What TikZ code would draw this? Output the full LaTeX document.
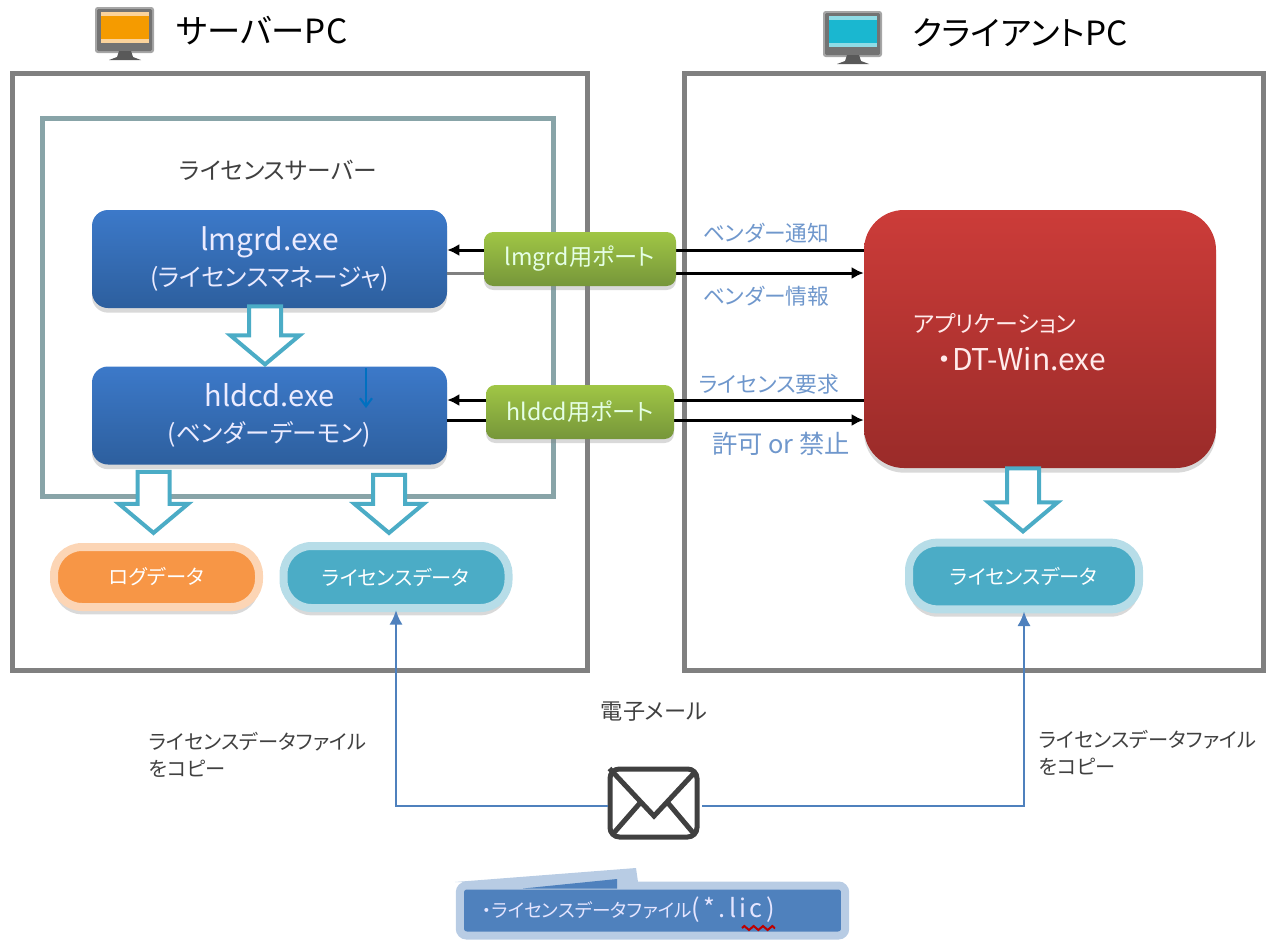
\documentclass[tikz,border=0pt]{standalone}
\usepackage{fontspec}
\setmainfont[RawFeature={+palt}]{Noto Sans CJK JP}
\usepackage{tikz}
\usetikzlibrary{arrows,arrows.meta,positioning,calc,shadows,shapes.arrows,decorations.pathmorphing}
\definecolor{frameGray}{HTML}{808080}
\definecolor{frameTeal}{HTML}{88A4A8}
\definecolor{flowTeal}{HTML}{4BACC6}
\definecolor{paleTeal}{HTML}{B7DDE8}
\definecolor{logOrange}{HTML}{F79646}
\definecolor{paleOrange}{HTML}{FCD5B5}
\definecolor{mailBlue}{HTML}{4F81BD}
\definecolor{paleBlue}{HTML}{B8CCE4}
\definecolor{noteBlue}{HTML}{6F97CC}
\definecolor{darkText}{HTML}{404040}
\definecolor{tinyBlue}{HTML}{0070C0}
\definecolor{screenS}{HTML}{F59B00}
\definecolor{bandS}{HTML}{FBD39B}
\definecolor{screenC}{HTML}{1AB7D0}
\definecolor{bandC}{HTML}{8FDCE6}

\begin{document}
\begin{tikzpicture}[x=.75pt, y=-.75pt,
        every node/.style={inner sep=0pt},
        framebox/.style={draw, line width=3.75pt, minimum height=447.75pt},
        mainblock/.style={rounded corners=12pt,
            top color={rgb,255:red,60;green,121;blue,201}, bottom color={rgb,255:red,45;green,95;blue,158},
            minimum width=266.25pt, minimum height=73.5pt, align=center, text=white!92!blue,
            font=\fontsize{18.5}{27}\selectfont,
            drop shadow={shadow xshift=0pt, shadow yshift=-3.5pt, opacity=.3}},
        portbox/.style={rounded corners=7pt,
            top color={rgb,255:red,160;green,198;blue,69}, bottom color={rgb,255:red,118;green,150;blue,58},
            minimum height=40.5pt, text=white!90!green, font=\fontsize{17.4}{20}\selectfont,
            drop shadow={shadow xshift=0pt, shadow yshift=-3pt, opacity=.3}},
        pillbox/.style={draw=paleTeal, fill=flowTeal, line width=6pt, rounded corners=21pt,
            text=white, font=\fontsize{15.2}{18}\selectfont,
            drop shadow={shadow xshift=0pt, shadow yshift=-5.5pt, opacity=.3}},
        flowarrow/.style={draw=flowTeal, fill=white, line width=3pt, single arrow, anchor=tip,
            shape border rotate=270, single arrow tip angle=100,
            inner sep=10.5pt, minimum width=48.75pt, single arrow head extend=13.9pt},
        portline/.style={draw, line width=2.25pt, -{Latex[length=9pt,width=9pt]}},
        mailline/.style={draw=mailBlue, line width=2pt, -{Latex[length=11pt,width=10pt]}, shorten >=-1.5pt},
        notelabel/.style={text=noteBlue, font=\fontsize{16.3}{19}\selectfont},
        copylabel/.style={text=darkText, align=left, font=\fontsize{15.2}{20}\selectfont},
        pics/monitor/.style 2 args={code={
            \fill[rounded corners=2pt, gray!70] (0,0) rectangle (59,46);
            \fill[rounded corners=1pt, black!55] (2,2) rectangle (57,44);
            \fill[#2] (6,5) rectangle (54,36);
            \fill[#1] (6,9) rectangle (54,32);
            \fill[black!65] (24,44) -- (36,44) -- (38,50) -- (46,53) -- (14,53) -- (22,50) -- cycle;
        }}]
    \useasboundingbox (0,0) rectangle (1266,939);

    \pic at (95,7) {monitor={screenS}{bandS}};
    \pic at (823,11) {monitor={screenC}{bandC}};
    \node[font=\fontsize{25}{28}\selectfont] (nodeTitleS) at (262,31) {サーバーPC};
    \node[font=\fontsize{25}{28}\selectfont] (nodeTitleC) at (1020,33) {クライアントPC};

    \node[framebox, draw=frameGray, minimum width=431.25pt] (nodeServer) at (299.5,371.5) {};
    \node[framebox, draw=frameGray, minimum width=434.25pt] (nodeClient) at (973.5,371.5) {};
    \node[framebox, draw=frameTeal, minimum width=383.25pt, minimum height=283.5pt]
        (nodeLicServer) at (297.5,307) {};
    \node[font=\fontsize{17.8}{20}\selectfont, text=darkText] (nodeLicTitle) at (278,170) {ライセンスサーバー};

    \node[mainblock] (nodeLmgrd) at (269.5,259) {{\fontsize{22.5}{27}\selectfont lmgrd.exe}\\(ライセンスマネージャ)};
    \node[mainblock] (nodeHldcd) at (269.5,415.5) {{\fontsize{21.7}{27}\selectfont hldcd.exe}\\(ベンダーデーモン)};
    \node[rounded corners=30pt, minimum width=264pt, minimum height=193.5pt,
        top color={rgb,255:red,204;green,60;blue,57}, bottom color={rgb,255:red,154;green,43;blue,41},
        drop shadow={shadow xshift=0pt, shadow yshift=-3.5pt, opacity=.3},
        text=white!92!red, align=left, text width=190.5pt, font=\fontsize{17.2}{25}\selectfont]
        (nodeApp) at (1040,339) {\rule{0pt}{19pt}アプリケーション\\[3pt]\hspace*{1.05em}{\fontsize{22.5}{25}\selectfont ・DT-Win.exe}};

    \coordinate (rowNotify) at (600,250);
    \coordinate (rowInfo) at (600,273);
    \coordinate (rowRequest) at (600,400);
    \coordinate (rowReply) at (600,420);
    \draw[portline] (nodeApp.west |- rowNotify) -- (nodeLmgrd.east |- rowNotify);
    \draw[portline] (nodeLmgrd.east |- rowInfo) -- (nodeApp.west |- rowInfo);
    \draw[portline] (nodeApp.west |- rowRequest) -- (nodeHldcd.east |- rowRequest);
    \draw[portline] (nodeHldcd.east |- rowReply) -- (nodeApp.west |- rowReply);
    \draw[frameGray, line width=2.25pt] (nodeLmgrd.east |- rowInfo) -- (484,273);

    \node[portbox, minimum width=144pt] (nodePortL) at (580,259) {lmgrd用ポート};
    \node[portbox, minimum width=141pt] (nodePortH) at (580,412) {hldcd用ポート};

    \node[notelabel] (nodeNotify) at (766,233) {ベンダー通知};
    \node[notelabel] (nodeInfo) at (766,296) {ベンダー情報};
    \node[notelabel] (nodeRequest) at (769,384) {ライセンス要求};
    \node[notelabel, font=\fontsize{19}{22}\selectfont] (nodeReply) at (781,444) {許可 or 禁止};

    \coordinate (tinyTop) at (366,368);
    \coordinate (tinyEnd) at (366,408);
    \draw[-{Straight Barb[length=6pt,width=9pt]}, line width=1.6pt, tinyBlue] (tinyTop) -- (tinyEnd);

    \node[flowarrow, minimum height=43.5pt] (nodeFlowA) at (265,367) {};
    \node[flowarrow, minimum height=45.75pt] (nodeFlowB) at (153.5,535.5) {};
    \node[flowarrow, minimum height=43.5pt] (nodeFlowC) at (389,535.5) {};
    \node[flowarrow, minimum height=47.25pt] (nodeFlowD) at (1023,534) {};

    \node[pillbox, draw=paleOrange, fill=logOrange, minimum width=153.75pt, minimum height=45pt]
        (nodeLog) at (156.5,577) {ログデータ};
    \node[pillbox, minimum width=168.75pt, minimum height=46.5pt]
        (nodeLicS) at (396,577) {ライセンスデータ};
    \node[pillbox, minimum width=172.5pt, minimum height=50pt]
        (nodeLicC) at (1024,576) {ライセンスデータ};

    \node[font=\fontsize{16.6}{19}\selectfont, text=darkText] (nodeMailTitle) at (654,712) {電子メール};
    \node[draw=darkText, fill=white, line width=3.75pt, rounded corners=7pt,
        minimum width=65.25pt, minimum height=51pt] (nodeMail) at (653.5,803) {};
    \draw[darkText, line width=3.75pt] (nodeMail.north west) ++(2,2) -- (654,816) -- (695,772);
    \draw[darkText, line width=3.75pt] (612,835) -- (640,803);
    \draw[darkText, line width=3.75pt] (695,835) -- (668,803);

    \coordinate (rowMail) at (650,806);
    \draw[mailline] (nodeMail.west |- rowMail) -| (nodeLicS.south);
    \draw[mailline, shorten <=2pt] (nodeMail.east |- rowMail) -| (nodeLicC.south);

    \node[copylabel] (nodeCopyS) at (257.5,755) {ライセンスデータファイル\\をコピー};
    \node[copylabel] (nodeCopyC) at (1147.5,753) {ライセンスデータファイル\\をコピー};

    \fill[paleBlue] (455,882) -- (636,868) -- (638,882) -- cycle;
    \node[draw=paleBlue, fill=mailBlue, line width=6pt, rounded corners=5pt,
        minimum width=289pt, minimum height=37.5pt] (nodeNote) at (652.5,910.5) {};
    \fill[mailBlue] (523,888.5) -- (617,879) -- (617,888.5) -- cycle;
    \node[text=white!90!blue, font=\fontsize{14}{17}\selectfont, anchor=west] (nodeNoteText) at (482,910)
        {・ライセンスデータファイル{\fontsize{19}{17}\selectfont\addfontfeature{LetterSpace=13}(*.lic)}};
    \coordinate (wavyA) at (742,928);
    \coordinate (wavyB) at (775,928);
    \draw[red!75!black, line width=1.5pt, decorate, decoration={zigzag, amplitude=1.5pt, segment length=7pt}] (wavyA) -- (wavyB);
\end{tikzpicture}
\end{document}
